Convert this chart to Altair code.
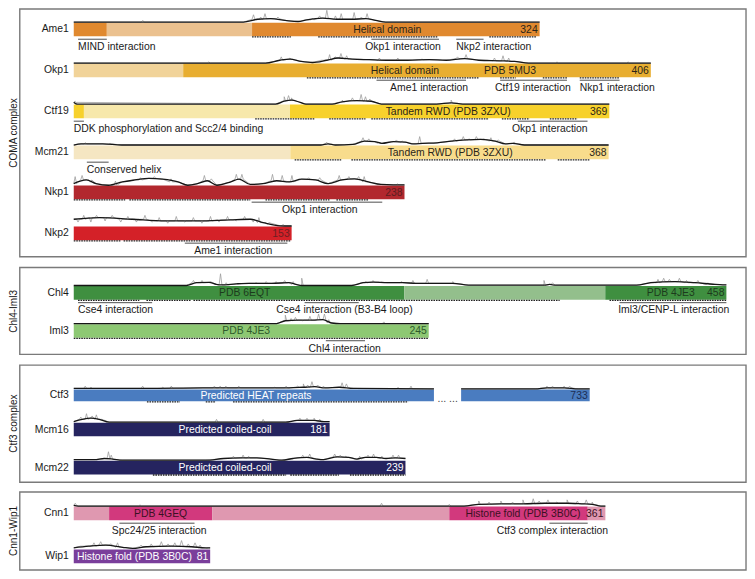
import altair as alt
import pandas as pd

# ------------------------------------------------------------------ data
proteins = ["Ame1", "Okp1", "Ctf19", "Mcm21", "Nkp1", "Nkp2",
            "Chl4", "Iml3", "Ctf3", "Mcm16", "Mcm22", "Cnn1", "Wip1"]
lengths = [324, 406, 369, 368, 238, 153, 458, 245, 733, 181, 239, 361, 81]
groups = ["COMA complex", "Chl4-Iml3", "Ctf3 complex", "Cnn1-Wip1"]

# bar segments (start aa, end aa, shade key)
segments = {
    "Ame1": [(0, 23, "a"), (23, 124, "b"), (124, 324, "a")],
    "Okp1": [(0, 77, "b"), (77, 406, "a")],
    "Ctf19": [(0, 7, "a"), (7, 149, "b"), (149, 369, "a")],
    "Mcm21": [(0, 149, "b"), (149, 368, "a")],
    "Nkp1": [(0, 238, "a")],
    "Nkp2": [(0, 153, "a")],
    "Chl4": [(0, 232, "a"), (232, 373, "b"), (373, 458, "a")],
    "Iml3": [(0, 245, "a")],
    "Ctf3": [(0, 251, "a"), (643, 733, "a")],
    "Mcm16": [(0, 181, "a")],
    "Mcm22": [(0, 239, "a")],
    "Cnn1": [(0, 24, "b"), (24, 94, "a"), (94, 255, "b"), (255, 349, "a"), (349, 361, "b")],
    "Wip1": [(0, 81, "a")],
}

# domain labels (protein, centre aa, text)
domains = [
    ("Ame1", 218, "Helical domain"),
    ("Okp1", 233, "Helical domain"), ("Okp1", 307, "PDB 5MU3"),
    ("Ctf19", 258, "Tandem RWD (PDB 3ZXU)"),
    ("Mcm21", 259, "Tandem RWD (PDB 3ZXU)"),
    ("Chl4", 120, "PDB 6EQT"), ("Chl4", 419, "PDB 4JE3"),
    ("Iml3", 119, "PDB 4JE3"),
    ("Ctf3", 127, "Predicted HEAT repeats"),
    ("Mcm16", 107, "Predicted coiled-coil"),
    ("Mcm22", 109, "Predicted coiled-coil"),
    ("Cnn1", 59, "PDB 4GEQ"), ("Cnn1", 305, "Histone fold (PDB 3B0C)"),
    ("Wip1", 36, "Histone fold (PDB 3B0C)"),
]

# interaction regions (protein, start aa, end aa, text, label anchor aa, align)
interactions = [
    ("Ame1", 3, 23, "MIND interaction", 3, "left"),
    ("Ame1", 207, 254, "Okp1 interaction", 229, "center"),
    ("Ame1", 266, 285, "Nkp2 interaction", 266, "left"),
    ("Okp1", 213, 276, "Ame1 interaction", 250, "center"),
    ("Okp1", 300, 347, "Ctf19 interaction", 323, "center"),
    ("Okp1", 356, 384, "Nkp1 interaction", 356, "left"),
    ("Ctf19", 0, 7, "DDK phosphorylation and Scc2/4 binding", 0, "left"),
    ("Ctf19", 306, 354, "Okp1 interaction", 328, "center"),
    ("Mcm21", 9, 24, "Conserved helix", 9, "left"),
    ("Nkp1", 128, 222, "Okp1 interaction", 177, "center"),
    ("Nkp2", 78, 150, "Ame1 interaction", 112, "center"),
    ("Chl4", 3, 55, "Cse4 interaction", 3, "left"),
    ("Chl4", 162, 200, "Cse4 interaction (B3-B4 loop)", 190, "center"),
    ("Chl4", 383, 458, "Iml3/CENP-L interaction", 421, "center"),
    ("Iml3", 174, 201, "Chl4 interaction", 187, "center"),
    ("Cnn1", 31, 82, "Spc24/25 interaction", 58, "center"),
    ("Cnn1", 323, 349, "Ctf3 complex interaction", 325, "center"),
]

# dotted stretches under the bars (start aa, end aa)
dashed = {
    "Ame1": [(124, 151), (170, 253), (289, 322)],
    "Okp1": [(164, 285), (300, 311), (330, 347), (356, 384)],
    "Ctf19": [(125, 166), (176, 201), (205, 286), (295, 314), (328, 347)],
    "Mcm21": [(152, 184), (191, 325), (333, 355)],
    "Nkp1": [(0, 37), (40, 127), (138, 184), (189, 212)],
    "Nkp2": [(0, 33), (35, 152)],
    "Chl4": [(3, 46), (51, 82), (84, 341), (376, 458)],
    "Iml3": [(0, 245)],
    "Ctf3": [(51, 74), (92, 99), (111, 233)],
    "Mcm16": [],
    "Mcm22": [(57, 153), (156, 191), (199, 239)],
    "Cnn1": [],
    "Wip1": [],
}

# smoothed profile above each bar (aa, height)
black_profile = {
    "Ame1": [(0, .5), (118, .5), (128, 3), (137, 3.5), (147, 2), (156, 1), (162, 2.5), (173, 4), (183, 3),
             (193, 3), (203, 3.5), (210, 2), (217, .5), (324, .5)],
    "Okp1": [(0, .5), (135, .5), (145, 3), (152, 4), (160, 2), (168, 1), (178, 3), (186, 5), (196, 4), (208, 3.5),
             (220, 3), (235, 3), (250, 3.5), (262, 3), (275, 4.5), (285, 3), (300, 2.5), (310, 2), (320, .5),
             (406, .5)],
    "Ctf19": [(0, 2), (2, .5), (139, .5), (145, 3), (150, 4), (156, 2), (160, .5), (178, .5), (185, 2.5),
              (195, 3.5), (205, 3), (212, .5), (250, .5), (260, 1.5), (268, .5), (369, .5)],
    "Mcm21": [(0, .5), (5, 1.5), (20, 1.5), (33, .5), (170, .5), (175, 1.5), (180, .5), (192, 1), (200, 4),
              (207, 3.5), (212, 2), (220, 3.5), (228, 3), (234, 1.5), (240, 2), (250, 2.5), (260, 4), (270, 5),
              (280, 5.5), (290, 4), (297, 1.5), (302, 2), (310, .5), (368, .5)],
    "Nkp1": [(0, 1.7), (9, 5), (16, 1.7), (25, .3), (35, 3.3), (44, 5), (54, 6.5), (64, 5.7), (75, 3.3), (82, .3),
             (89, 1.7), (96, 4.3), (103, .3), (113, 3.3), (119, 5.7), (127, 1), (136, 1.7), (146, 4.3), (155, 3.3),
             (164, 5.7), (174, 5), (183, 1.7), (193, 5), (202, 6), (212, 3.3), (221, 1), (230, .7), (238, .7)],
    "Nkp2": [(0, 6.5), (18, 8), (41, 6.5), (64, 5), (87, 5), (110, 6), (124, 6.5), (133, 3.5), (145, .7),
             (153, .5)],
    "Chl4": [(0, .5), (79, .5), (86, 3), (95, 3.3), (100, 1.5), (104, 1), (114, 2), (123, 2.5), (139, 2.5),
             (151, 3), (156, 1.5), (160, .5), (195, .5), (203, 3), (210, 3.5), (220, 3), (231, 3), (240, 2.5),
             (255, 2.5), (266, 2.5), (277, .8), (330, .8), (334, 1.5), (338, .8), (395, .8), (405, 3), (422, 4),
             (436, 3), (450, 1.5), (458, 1)],
    "Iml3": [(0, .5), (140, .5), (146, 3), (155, 3.5), (165, 3.5), (172, 4), (178, 1), (184, .5), (245, .5)],
    "Ctf3": [(0, 1), (50, 1), (90, 1.5), (130, 1.5), (150, 1.5), (160, 2), (168, 2.5), (175, 1.5), (185, 2),
             (195, 1), (251, .5), (643, .5), (695, .5), (703, 1.5), (715, 1.5), (725, .5), (733, .5)],
    "Mcm16": [(0, 1), (6, 3), (12, 4), (18, 3), (25, .5), (150, .5), (158, 2), (170, 2), (177, 1), (181, 1)],
    "Mcm22": [(0, 1), (15, 1), (22, 2), (28, 1.5), (35, .5), (95, .5), (108, 2), (120, 2.5), (132, 2.5),
              (142, 1.5), (150, .5), (158, 2), (168, 3), (175, 1.5), (180, 1), (190, 3.5), (198, 3), (204, 1.5),
              (210, 3), (218, 3), (225, 2), (232, 2.5), (239, 2)],
    "Cnn1": [(0, 1), (3, .5), (265, .5), (275, 2), (290, 2.5), (305, 2.5), (320, 3), (335, 3), (345, 2.5),
             (352, 2), (358, .5), (361, .5)],
    "Wip1": [(0, 1.5), (9, 3), (19, 4), (29, 2), (35, 1), (43, 2.5), (58, 3), (70, 2.5), (78, 1.5), (81, 1.5)],
}

# raw (grey) profile peaks (aa, height)
gray_spikes = {
    "Ame1": [(48, 2), (125, 7), (130, 5), (133, 8), (142, 5), (166, 4), (171, 6), (176, 11), (182, 6), (186, 8),
             (195, 9), (200, 5), (204, 8)],
    "Okp1": [(95, 1.5), (146, 6), (152, 5), (175, 3), (180, 8), (184, 6), (188, 9), (192, 7), (200, 4), (215, 5),
             (228, 5), (245, 4), (270, 6), (276, 8), (290, 3), (296, 5), (302, 7), (306, 5), (340, 1.5),
             (390, 1.5)],
    "Ctf19": [(1, 3), (145, 7), (148, 8), (150, 6), (185, 4), (192, 6), (198, 9), (201, 7), (204, 5), (260, 4)],
    "Mcm21": [(8, 2.5), (25, 2), (174, 3), (199, 7), (203, 6), (210, 3), (222, 5), (226, 4), (238, 8), (262, 6),
              (268, 8), (272, 6), (277, 8), (282, 6), (287, 7), (292, 5), (303, 3), (340, 1), (355, 1)],
    "Nkp1": [(1, 8), (6, 9), (12, 3), (30, 4), (48, 7), (58, 8), (70, 6), (94, 9), (99, 6), (117, 10), (121, 10),
             (143, 10), (150, 9), (157, 9), (169, 7), (177, 7), (191, 9), (198, 8), (205, 8), (209, 8),
             (233, 1.5)],
    "Nkp2": [(3, 4), (7, 10), (12, 4), (16, 10), (22, 5), (27, 10), (33, 4), (38, 9), (44, 4), (50, 10), (55, 4),
             (60, 8), (66, 3), (72, 9), (78, 4), (84, 8), (90, 3), (96, 9), (102, 4), (108, 9), (114, 5),
             (120, 9), (126, 4), (130, 8), (136, 2), (147, 2)],
    "Chl4": [(84, 5), (90, 5), (96, 4), (103, 11), (107, 3), (128, 3), (135, 4), (142, 4), (148, 5), (154, 4),
             (160, 7), (205, 4), (210, 5), (215, 3), (230, 4), (238, 5), (248, 6), (266, 4), (330, 5), (336, 3),
             (410, 6), (414, 7), (418, 6), (425, 7), (430, 5), (438, 5), (445, 3)],
    "Iml3": [(146, 8), (150, 5), (153, 6), (158, 3), (163, 7), (169, 9), (173, 9), (176, 4), (214, 2)],
    "Ctf3": [(8, 3), (12, 2), (48, 3), (62, 2), (68, 3), (98, 3), (102, 3), (106, 3), (115, 3), (140, 2),
             (148, 3), (156, 3), (160, 5), (163, 4), (166, 7), (170, 4), (174, 3), (187, 6), (190, 5), (226, 2),
             (235, 3), (703, 3), (707, 3), (715, 3), (719, 3)],
    "Mcm16": [(5, 5), (9, 8), (13, 6), (16, 7), (19, 3), (101, 3), (134, 3), (160, 4), (165, 4), (170, 4),
              (174, 3)],
    "Mcm22": [(25, 8), (27, 5), (115, 4), (122, 5), (126, 4), (165, 5), (170, 6), (188, 6), (192, 5), (196, 4),
              (206, 4), (212, 5), (216, 6), (222, 4), (230, 5), (234, 5)],
    "Cnn1": [(1, 3), (45, 1.5), (209, 3), (255, 2), (275, 5), (282, 4), (290, 5), (298, 4), (305, 6), (312, 7),
             (316, 5), (322, 6), (328, 4), (335, 6), (342, 5), (348, 6), (352, 4)],
    "Wip1": [(5, 3), (12, 6), (16, 7), (22, 5), (26, 6), (40, 4), (46, 5), (52, 7), (56, 5), (60, 6), (64, 8),
             (68, 5), (72, 6), (75, 4), (79, 1)],
}

# ------------------------------------------------------------------ layout (reference pixel units)
bar_start = 67
bar_end = {"Ame1": 541.7, "Okp1": 655, "Ctf19": 612.7, "Mcm21": 612, "Nkp1": 404, "Nkp2": 289,
           "Chl4": 732, "Iml3": 428.7, "Mcm16": 327.7, "Mcm22": 405, "Cnn1": 608.7, "Wip1": 206}
ctf3_pieces = [(0, 251, 67, 434), (643, 733, 461.7, 592.7)]
bar_top = {"Ame1": 17, "Okp1": 59, "Ctf19": 101, "Mcm21": 143, "Nkp1": 184, "Nkp2": 226,
           "Chl4": 287, "Iml3": 326, "Ctf3": 393, "Mcm16": 427, "Mcm22": 466, "Cnn1": 513, "Wip1": 557}
bar_h = {p: 14 for p in proteins}
bar_h["Ctf3"] = 12
panels = [(12, 752, 3, 257), (12, 752, 268, 357), (12, 752, 368, 488), (12, 752, 498, 578)]
group_x = 6
group_y = [130, 313, 428, 538]
name_x = 62
trace_gain = 1.15
FONT = "Liberation Sans"
FS = 10.4

# ------------------------------------------------------------------ style
shades = {
    "Ame1": {"a": "#E0892F", "b": "#EBC18F"},
    "Okp1": {"a": "#E8AE31", "b": "#F1D399"},
    "Ctf19": {"a": "#F7D12C", "b": "#F7E8AB"},
    "Mcm21": {"a": "#F8DC8C", "b": "#F5E6C2"},
    "Nkp1": {"a": "#B2282E"},
    "Nkp2": {"a": "#D42128"},
    "Chl4": {"a": "#3F8F40", "b": "#93BF8C"},
    "Iml3": {"a": "#8DC873"},
    "Ctf3": {"a": "#4A7CC0"},
    "Mcm16": {"a": "#25245F"},
    "Mcm22": {"a": "#25245F"},
    "Cnn1": {"a": "#D2397D", "b": "#DF98B0"},
    "Wip1": {"a": "#7A3E9B"},
}
dark_text = "#2a2418"
domain_color = {"Chl4": "#1d3b1d", "Iml3": "#2d5a2b", "Ctf3": "white", "Mcm16": "white",
                "Mcm22": "white", "Cnn1": "#3b1123", "Wip1": "white"}
length_color = {"Nkp1": "#5c1d20", "Nkp2": "#6e1e22", "Chl4": "#1d3b1d", "Iml3": "#2d5a2b",
                "Ctf3": "#1c2e55", "Mcm16": "white", "Mcm22": "white", "Cnn1": "#3b1123", "Wip1": "white"}


# ------------------------------------------------------------------ helpers
def pieces(p):
    if p == "Ctf3":
        return ctf3_pieces
    L = lengths[proteins.index(p)]
    return [(0, L, bar_start, bar_end[p])]


def piece_of(p, aa):
    for i, (a0, a1, x0, x1) in enumerate(pieces(p)):
        if a0 - 0.01 <= aa <= a1 + 0.01:
            return i
    return 0


def xmap(p, aa):
    a0, a1, x0, x1 = pieces(p)[piece_of(p, aa)]
    return x0 + (aa - a0) * (x1 - x0) / (a1 - a0)


def bottom(p):
    return bar_top[p] + bar_h[p]


bars, lines_b, lines_g, dash_rows, inter_rows = [], [], [], [], []
txt_center, txt_left, txt_right = [], [], []

for p in proteins:
    L = lengths[proteins.index(p)]
    for s, e, k in segments[p]:
        bars.append(dict(x=xmap(p, s), x2=xmap(p, e), y=bar_top[p], y2=bottom(p), c=shades[p][k]))
    for a, h in black_profile[p]:
        lines_b.append(dict(k=f"{p}{piece_of(p, a)}", x=xmap(p, a), y=bar_top[p] - h * trace_gain))
    pts = list(black_profile[p])
    for a, h in gray_spikes[p]:
        foot = min(black_profile[p], key=lambda q: abs(q[0] - a))[1]
        for aa, hh in ((a - 1.0, foot), (a, h), (a + 1.0, foot)):
            aa = min(max(aa, 0), L)
            pts.append((aa, hh))
    for a, h in pts:
        lines_g.append(dict(k=f"{p}{piece_of(p, a)}", x=xmap(p, a), y=bar_top[p] - h * trace_gain))
    for s, e in dashed[p]:
        dash_rows.append(dict(x=xmap(p, s), x2=xmap(p, e), y=bottom(p) + 0.6))
    txt_right.append(dict(x=name_x, y=(bar_top[p] + bottom(p)) / 2, t=p, c="#1a1a1a"))
    end_x = pieces(p)[-1][3]
    txt_right.append(dict(x=end_x - 2, y=(bar_top[p] + bottom(p)) / 2 + 0.5, t=str(L),
                          c=length_color.get(p, dark_text)))

for p, a, t in domains:
    txt_center.append(dict(x=xmap(p, a), y=(bar_top[p] + bottom(p)) / 2 + 0.5, t=t,
                           c=domain_color.get(p, dark_text)))

for p, s, e, t, anc, al in interactions:
    inter_rows.append(dict(x=xmap(p, s), x2=xmap(p, e), y=bottom(p) + 3))
    row = dict(x=xmap(p, anc), y=bottom(p) + 11, t=t, c="#1a1a1a")
    (txt_left if al == "left" else txt_center).append(row)

txt_center.append(dict(x=448, y=bottom("Ctf3") - 2, t="...  ...", c="#444444"))

panel_rows = [dict(x=a, x2=b, y=c, y2=d) for a, b, c, d in panels]
group_rows = [dict(x=group_x, y=gy, t=g) for g, gy in zip(groups, group_y)]

# ------------------------------------------------------------------ chart
xs = alt.Scale(domain=[0, 753], nice=False, zero=False)
ys = alt.Scale(domain=[2, 579], nice=False, zero=False, reverse=True)
X = lambda f="x": alt.X(f"{f}:Q", scale=xs, axis=None)
Y = lambda f="y": alt.Y(f"{f}:Q", scale=ys, axis=None)

box = alt.Chart(pd.DataFrame(panel_rows)).mark_rect(
    filled=False, stroke="#7a7a7a", strokeWidth=1.4).encode(
    x=X(), x2="x2:Q", y=Y(), y2="y2:Q")

bar = alt.Chart(pd.DataFrame(bars)).mark_rect().encode(
    x=X(), x2="x2:Q", y=Y(), y2="y2:Q", color=alt.Color("c:N", scale=None))

gray = alt.Chart(pd.DataFrame(lines_g)).mark_line(
    color="#999999", strokeWidth=0.75, interpolate="linear").encode(
    x=X(), y=Y(), detail="k:N")

black = alt.Chart(pd.DataFrame(lines_b)).mark_line(
    color="#161616", strokeWidth=1.3, interpolate="monotone").encode(
    x=X(), y=Y(), detail="k:N")

dash = alt.Chart(pd.DataFrame(dash_rows)).mark_rule(
    color="#222222", strokeWidth=1.3, strokeDash=[1.6, 0.9]).encode(
    x=X(), x2="x2:Q", y=Y())

inter = alt.Chart(pd.DataFrame(inter_rows)).mark_rule(
    color="#222222", strokeWidth=0.8).encode(
    x=X(), x2="x2:Q", y=Y())


def text_layer(rows, align):
    return alt.Chart(pd.DataFrame(rows)).mark_text(
        align=align, baseline="middle", font=FONT, fontSize=FS).encode(
        x=X(), y=Y(), text="t:N", color=alt.Color("c:N", scale=None))


tc = text_layer(txt_center, "center")
tl = text_layer(txt_left, "left")
tr = text_layer(txt_right, "right")

grp = alt.Chart(pd.DataFrame(group_rows)).mark_text(
    angle=270, align="center", baseline="middle", font=FONT, fontSize=10, color="#1a1a1a").encode(
    x=X(), y=Y(), text="t:N")

chart = alt.layer(box, bar, gray, black, dash, inter, tc, tl, tr, grp).properties(
    width=739, height=563, padding=0, autosize="none"
).configure_view(stroke=None)

chart.save("out.html", embed_options={"renderer": "svg", "actions": False})
